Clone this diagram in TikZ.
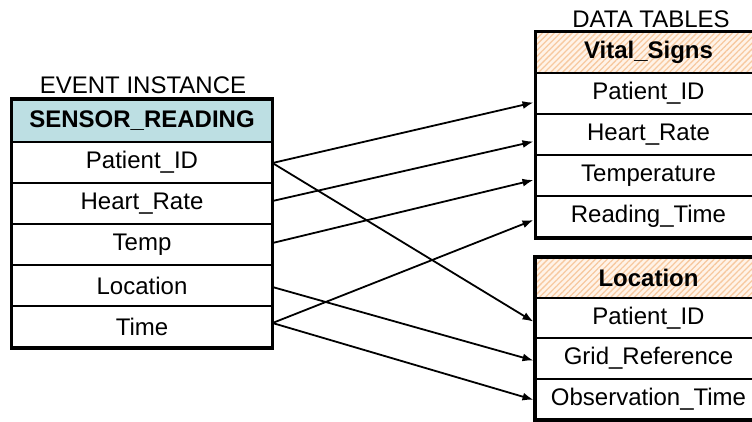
\documentclass[tikz,border=0pt]{standalone}
\usepackage{fontspec}
\setmainfont{Liberation Sans}
\usetikzlibrary{arrows.meta,patterns.meta}
\definecolor{eventhead}{HTML}{BDDFE3}
\definecolor{hatchbg}{HTML}{FFF3E8}
\definecolor{hatchline}{HTML}{F7C9A0}
\begin{document}
\begin{tikzpicture}[x=1bp,y=-1bp,
  txt/.style={font=\fontsize{24bp}{28bp}\selectfont},
  cell/.style={txt,draw=black,line width=2bp,rectangle,inner sep=0pt,
    minimum height=41bp},
  lcell/.style={cell,minimum width=259bp},
  rcell/.style={cell,minimum width=225bp},
  evhead/.style={fill=eventhead,font=\fontsize{24bp}{28bp}\selectfont\bfseries},
  tbhead/.style={font=\fontsize{24bp}{28bp}\selectfont\bfseries,
    preaction={fill=hatchbg},
    pattern={Lines[angle=45,distance=4.2bp,line width=1.3bp]},pattern color=hatchline},
  frame/.style={draw=black,line width=3.5bp},
  link/.style={draw=black,line width=1.8bp,-{Latex[length=11bp,width=8bp]}},
  caption/.style={txt,anchor=base,inner sep=0pt}]
\useasboundingbox (0,0) rectangle (752,421);
\clip (0,0) rectangle (752,421);

% event instance table
\node[caption] (evcap) at (143,93) {EVENT INSTANCE};
\node[lcell,evhead,minimum height=42bp] (lhead) at (142,121) {SENSOR\_READING};
\node[lcell] (lpid)  at (142,162.5) {Patient\_ID};
\node[lcell] (lhr)   at (142,203.5) {Heart\_Rate};
\node[lcell] (ltemp) at (142,244.5) {Temp};
\node[lcell] (lloc)  at (142,285.5) {Location};
\node[lcell] (ltime) at (142,326.5) {Time};
\draw[frame] (lhead.north west) rectangle (ltime.south east);

% vital signs table
\node[caption] (dtcap) at (651,27) {DATA TABLES};
\node[rcell,tbhead] (vhead) at (648.5,52.5) {Vital\_Signs};
\node[rcell] (vpid)  at (648.5,93.5)  {Patient\_ID};
\node[rcell] (vhr)   at (648.5,134.5) {Heart\_Rate};
\node[rcell] (vtemp) at (648.5,175.5) {Temperature};
\node[rcell] (vtime) at (648.5,216.5) {Reading\_Time};
\draw[frame] (vhead.north west) rectangle (vtime.south east);

% location table
\node[rcell,tbhead,minimum height=40bp] (ohead) at (648.5,278) {Location};
\node[rcell,minimum height=40.3bp] (opid)  at (648.5,318.2) {Patient\_ID};
\node[rcell,minimum height=40.3bp] (ogrid) at (648.5,358.5) {Grid\_Reference};
\node[rcell,minimum height=40.3bp] (oobs)  at (648.5,398.8) {Observation\_Time};
\draw[frame] (ohead.north west) rectangle (oobs.south east);

% field mappings
\draw[link] ([yshift=-0.5bp]lpid.east) -- ([xshift=-1.5bp,yshift=-9bp]vpid.west);
\draw[link] ([yshift=-0.5bp]lpid.east) -- ([xshift=-1.5bp,yshift=-3.5bp]opid.west);
\draw[link] ([yshift=2.5bp]lhr.east) -- ([xshift=-1.5bp,yshift=-7bp]vhr.west);
\draw[link] ([yshift=1.5bp]ltemp.east) -- ([xshift=-1.5bp,yshift=-4.5bp]vtemp.west);
\draw[link] ([yshift=-1.5bp]lloc.east) -- ([xshift=-1.5bp,yshift=-2bp]ogrid.west);
\draw[link] ([yshift=3.5bp]ltime.east) -- ([xshift=-1.5bp,yshift=-3.5bp]vtime.west);
\draw[link] ([yshift=3.5bp]ltime.east) -- ([xshift=-1.5bp,yshift=-1bp]oobs.west);
\end{tikzpicture}
\end{document}
